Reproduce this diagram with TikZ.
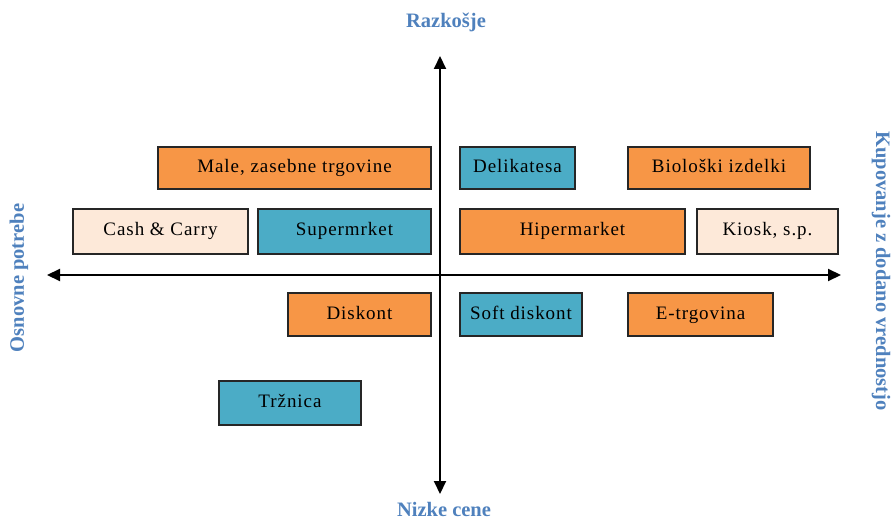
\documentclass[tikz,border=0pt]{standalone}
\usepackage{fontspec}
\setmainfont{Liberation Serif}
\newfontfamily\boxfont{Liberation Serif}[LetterSpace=5]
\usetikzlibrary{arrows.meta}
\definecolor{hot}{HTML}{F79646}
\definecolor{cool}{HTML}{4BACC6}
\definecolor{pale}{HTML}{FDE9D9}
\definecolor{axislabel}{HTML}{4F81BD}
\begin{document}
\begin{tikzpicture}[
 x=1pt,y=-1pt,
 font=\boxfont\fontsize{19}{22}\selectfont,
 box/.style={draw=black!85,line width=1.3pt,inner sep=0pt,text height=0.9em,text depth=0em},
 hotbox/.style={box,fill=hot},
 coolbox/.style={box,fill=cool},
 palebox/.style={box,fill=pale},
 axis/.style={{Triangle[length=13pt,width=12pt]}-{Triangle[length=13pt,width=12pt]},line width=2pt},
 dir/.style={font=\rmfamily\fontsize{20.5}{24}\selectfont\bfseries,text=axislabel,inner sep=0pt}
]
\useasboundingbox (0,0) rectangle (891,521);
% axes
\coordinate (xl) at (47,275);
\coordinate (xr) at (841,275);
\coordinate (yt) at (440,56);
\coordinate (yb) at (440,494);
\draw[axis] (xl) -- (xr);
\draw[axis] (yt) -- (yb);
\node[dir] (luxury) at (446,22) {Razkošje};
\node[dir] (cheap) at (444,509) {Nizke cene};
\node[dir,rotate=90] (basic) at (19,278) {Osnovne potrebe};
\node[dir,rotate=-90] (added) at (881,271) {Kupovanje z dodano vrednostjo};
% upper half
\node[hotbox,minimum width=273,minimum height=42] (male) at (294.5,168) {Male, zasebne trgovine};
\node[coolbox,minimum width=115,minimum height=42] (delik) at (517.5,168) {Delikatesa};
\node[hotbox,minimum width=182,minimum height=42] (bio) at (719,168) {Biološki izdelki};
\node[palebox,minimum width=175,minimum height=45] (cash) at (160.5,231.5) {Cash \& Carry};
\node[coolbox,minimum width=173,minimum height=45] (super) at (344.5,231.5) {Supermrket};
\node[hotbox,minimum width=225,minimum height=45] (hiper) at (572.5,231.5) {Hipermarket};
\node[palebox,minimum width=141,minimum height=45] (kiosk) at (767.5,231.5) {Kiosk, s.p.};
% lower half
\node[hotbox,minimum width=143,minimum height=43] (diskont) at (359.5,314.5) {Diskont};
\node[coolbox,minimum width=122,minimum height=43] (soft) at (521,314.5) {Soft diskont};
\node[hotbox,minimum width=145,minimum height=43] (etrg) at (700.5,314.5) {E-trgovina};
\node[coolbox,minimum width=142,minimum height=44] (trznica) at (290,403) {Tržnica};
\end{tikzpicture}
\end{document}
